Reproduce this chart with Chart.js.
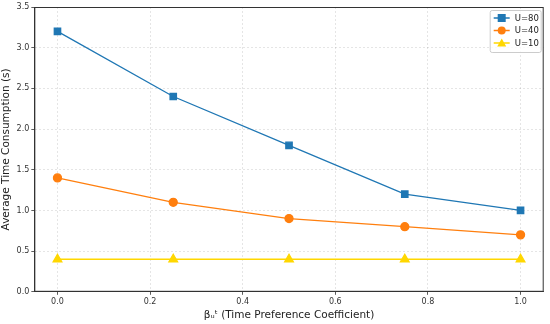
<!DOCTYPE html>
<html>
<head>
<meta charset="utf-8">
<script src="https://cdn.jsdelivr.net/npm/chart.js@4"></script>
<style>
  html, body { margin: 0; padding: 0; background: #fff; }
  #wrap { width: 550px; height: 324px; }
</style>
</head>
<body>
<div id="wrap"><canvas id="chart" width="550" height="324"></canvas></div>
<script>
/* ================= DATA ================= */

const betaValues = [0, 0.25, 0.5, 0.75, 1.0];
const u80 = [3.2, 2.4, 1.8, 1.2, 1.0];
const u40 = [1.4, 1.1, 0.9, 0.8, 0.7];
const u10 = [0.4, 0.4, 0.4, 0.4, 0.4];
const seriesLabels = ["U=80", "U=40", "U=10"];
const xTicks = [0, 0.2, 0.4, 0.6, 0.8, 1.0];

function toPoints(ys) {
  return betaValues.map((x, i) => ({ x: x, y: ys[i] }));
}

/* ================= PLUGINS ================= */

// matplotlib style frame round the plot area
const framePlugin = {
  id: "frame",
  afterDatasetsDraw(chart) {
    const a = chart.chartArea;
    const c = chart.ctx;
    c.save();
    c.strokeStyle = "#333";
    c.lineWidth = 1;
    c.strokeRect(a.left + 0.5, a.top + 0.5, a.right - a.left - 1, a.bottom - a.top - 1);
    c.restore();
  }
};

// legend box with line + marker, like matplotlib
const legendBox = {
  id: "legendBox",
  afterDraw(chart) {
    const c = chart.ctx;
    const a = chart.chartArea;
    const w = 51, h = 42;
    const x0 = a.right - w - 3, y0 = a.top + 3;
    c.save();
    c.fillStyle = "rgba(255,255,255,0.8)";
    c.strokeStyle = "#ccc";
    c.lineWidth = 1;
    c.beginPath();
    c.roundRect(x0 + 0.5, y0 + 0.5, w, h, 2);
    c.fill();
    c.stroke();
    c.font = "8.5px 'DejaVu Sans'";
    c.textBaseline = "middle";
    chart.data.datasets.forEach((ds, i) => {
      const yy = y0 + 8 + i * 12.5;
      c.strokeStyle = ds.borderColor;
      c.lineWidth = 1.5;
      c.beginPath();
      c.moveTo(x0 + 4, yy);
      c.lineTo(x0 + 20, yy);
      c.stroke();
      c.fillStyle = ds.borderColor;
      const mx = x0 + 12;
      if (ds.pointStyle === "rect") {
        c.fillRect(mx - 4, yy - 4, 8, 8);
      } else if (ds.pointStyle === "circle") {
        c.beginPath();
        c.arc(mx, yy, 4, 0, Math.PI * 2);
        c.fill();
      } else {
        c.beginPath();
        c.moveTo(mx, yy - 4.5);
        c.lineTo(mx + 4.5, yy + 3.5);
        c.lineTo(mx - 4.5, yy + 3.5);
        c.closePath();
        c.fill();
      }
      c.fillStyle = "#222";
      c.fillText(ds.label, x0 + 25, yy + 0.5);
    });
    c.restore();
  }
};

/* ================= CHART ================= */

const gridStyle = {
  color: "rgba(0,0,0,0.13)",
  lineWidth: 0.8,
  tickColor: "#333",
  tickLength: 3,
  drawTicks: true
};

new Chart(document.getElementById("chart"), {
  type: "line",
  data: {
    datasets: [
      {
        label: seriesLabels[0],
        data: toPoints(u80),
        borderColor: "#1f77b4",
        backgroundColor: "#1f77b4",
        pointStyle: "rect",
        pointRadius: 4.5,
        borderWidth: 1.3
      },
      {
        label: seriesLabels[1],
        data: toPoints(u40),
        borderColor: "#ff7f0e",
        backgroundColor: "#ff7f0e",
        pointStyle: "circle",
        pointRadius: 4,
        borderWidth: 1.3
      },
      {
        label: seriesLabels[2],
        data: toPoints(u10),
        borderColor: "#ffd700",
        backgroundColor: "#ffd700",
        pointStyle: "triangle",
        pointRadius: 5,
        borderWidth: 1.3
      }
    ]
  },
  options: {
    responsive: false,
    animation: false,
    layout: { padding: { left: 0, right: 3, top: 7, bottom: 2 } },
    plugins: {
      legend: { display: false },
      tooltip: { enabled: false }
    },
    scales: {
      x: {
        type: "linear",
        min: -0.05,
        max: 1.05,
        afterBuildTicks: axis => {
          axis.ticks = xTicks.map(v => ({ value: v }));
        },
        grid: gridStyle,
        border: { display: true, color: "#333", dash: [2, 2] },
        ticks: {
          color: "#333",
          font: { family: "DejaVu Sans", size: 8 },
          padding: 2,
          callback: v => v.toFixed(1)
        },
        title: {
          display: true,
          text: "\u03b2\u1d64\u1d57 (Time Preference Coefficient)",
          color: "#222",
          font: { family: "DejaVu Sans", size: 10.5 },
          padding: { top: 1, bottom: 0 }
        }
      },
      y: {
        min: 0,
        max: 3.5,
        grid: gridStyle,
        border: { display: true, color: "#333", dash: [2, 2] },
        ticks: {
          stepSize: 0.5,
          color: "#333",
          font: { family: "DejaVu Sans", size: 8 },
          padding: 2,
          callback: v => v.toFixed(1)
        },
        title: {
          display: true,
          text: "Average Time Consumption (s)",
          color: "#222",
          font: { family: "DejaVu Sans", size: 10.5 },
          padding: { top: 0, bottom: 2 }
        }
      }
    }
  },
  plugins: [framePlugin, legendBox]
});
</script>
</body>
</html>
